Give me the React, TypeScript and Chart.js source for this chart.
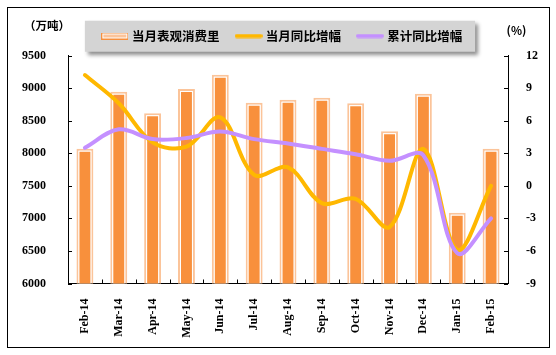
import { useEffect, useRef } from "react";
import { Chart, registerables } from "chart.js";

Chart.register(...registerables);

// ---------------- data ----------------
const categories = [
  "Feb-14", "Mar-14", "Apr-14", "May-14", "Jun-14", "Jul-14", "Aug-14",
  "Sep-14", "Oct-14", "Nov-14", "Dec-14", "Jan-15", "Feb-15",
];
const consumption = [8069, 8944, 8613, 8986, 9205, 8775, 8821, 8852, 8766, 8336, 8913, 7087, 8069];
const monthlyYoY = [10.2, 7.6, 4.0, 3.6, 6.3, 1.0, 1.7, -1.6, -1.2, -3.8, 3.4, -5.9, 0.0];
const cumulativeYoY = [3.5, 5.2, 4.3, 4.4, 5.0, 4.3, 3.9, 3.4, 2.9, 2.3, 2.8, -6.2, -3.0];
const seriesNames = ["当月表观消费里", "当月同比增幅", "累计同比增幅"];
const leftAxis = { min: 6000, max: 9500, step: 500 };
const rightAxis = { min: -9, max: 12, step: 3 };
const unitLeft = "（万吨）";
const unitRight = "(%)";

// ---------------- styles ----------------
const BAR_FILL = "#F8903C";
const BAR_RING = "#FBC49A";
const LINE_ORANGE = "#FFB800";
const LINE_PURPLE = "#C490FF";
const CJK = "'Noto Sans CJK SC', 'Noto Sans', sans-serif";
const NUM = "'Liberation Serif', 'DejaVu Serif', serif";

function makeIcon(kind: string): HTMLCanvasElement {
  const c = document.createElement("canvas");
  const ctx = c.getContext("2d")!;
  if (kind === "bar") {
    c.width = 27;
    c.height = 7;
    ctx.fillStyle = BAR_FILL;
    ctx.fillRect(0, 0, 27, 7);
    ctx.fillStyle = "#FFFFFF";
    ctx.fillRect(1, 1, 25, 5);
    ctx.fillStyle = BAR_RING;
    ctx.fillRect(2, 2, 23, 3);
  } else {
    c.width = 28;
    c.height = 5;
    ctx.fillStyle = kind;
    ctx.beginPath();
    ctx.moveTo(2, 0.5);
    ctx.lineTo(26, 0.5);
    ctx.arc(26, 2.5, 2, -Math.PI / 2, Math.PI / 2);
    ctx.lineTo(2, 4.5);
    ctx.arc(2, 2.5, 2, Math.PI / 2, (3 * Math.PI) / 2);
    ctx.fill();
  }
  return c;
}

const legendBgPlugin = {
  id: "legendBg",
  beforeDraw(chart: any) {
    const lg = chart.legend;
    if (!lg || !lg.legendHitBoxes || !lg.legendHitBoxes.length) return;
    const hb = lg.legendHitBoxes;
    const first = hb[0];
    const last = hb[hb.length - 1];
    const x0 = first.left - 19;
    const x1 = last.left + last.width + 13;
    const y0 = lg.top + 9;
    const y1 = lg.bottom - 0.5;
    const ctx = chart.ctx;
    ctx.save();
    ctx.shadowColor = "rgba(0,0,0,0.45)";
    ctx.shadowBlur = 4;
    ctx.shadowOffsetX = 3;
    ctx.shadowOffsetY = 3;
    ctx.fillStyle = "#D4D4D4";
    ctx.fillRect(x0, y0, x1 - x0, y1 - y0);
    ctx.restore();
  },
};

const decorPlugin = {
  id: "decor",
  afterDraw(chart: any) {
    const ctx = chart.ctx;
    const { left, right, bottom } = chart.chartArea;
    const y = chart.scales.y;
    const y1 = chart.scales.y1;
    const x = chart.scales.x;
    ctx.save();
    ctx.strokeStyle = "#000";
    ctx.lineWidth = 1;
    ctx.beginPath();
    y.ticks.forEach((t: any) => {
      const p = Math.round(y.getPixelForValue(t.value)) + 0.5;
      ctx.moveTo(left, p);
      ctx.lineTo(left + 4, p);
    });
    y1.ticks.forEach((t: any) => {
      const p = Math.round(y1.getPixelForValue(t.value)) + 0.5;
      ctx.moveTo(right - 4, p);
      ctx.lineTo(right, p);
    });
    for (let i = 1; i < categories.length; i++) {
      const p = Math.round((x.getPixelForValue(i - 1) + x.getPixelForValue(i)) / 2) + 0.5;
      ctx.moveTo(p, bottom);
      ctx.lineTo(p, bottom - 4);
    }
    ctx.stroke();

    // outer frame
    ctx.strokeRect(7.5, 7.5, 542, 340);

    // unit labels
    ctx.fillStyle = "#000";
    ctx.font = `bold 11.5px ${CJK}`;
    ctx.textBaseline = "middle";
    ctx.textAlign = "center";
    ctx.fillText(unitLeft, 47, 26);
    ctx.fillText(unitRight, 516.5, 31);
    ctx.restore();
  },
};

export default function App() {
  const ref = useRef<HTMLCanvasElement | null>(null);

  useEffect(() => {
    if (!ref.current) return;
    const icons = [makeIcon("bar"), makeIcon(LINE_ORANGE), makeIcon(LINE_PURPLE)];
    const tickFont = { family: NUM, size: 12, weight: "bold" as const };
    const plain = (v: any) => String(v);

    const chart = new Chart(ref.current, {
      type: "bar",
      data: {
        labels: categories,
        datasets: [
          {
            type: "bar",
            label: seriesNames[0],
            data: consumption,
            yAxisID: "y",
            backgroundColor: BAR_FILL,
            borderColor: "rgba(0,0,0,0)",
            borderWidth: 3,
            borderSkipped: false,
            barPercentage: 0.5,
            categoryPercentage: 1,
            grouped: false,
            order: 2,
          } as any,
          {
            type: "bar",
            label: seriesNames[0] + " ",
            data: consumption,
            yAxisID: "y",
            backgroundColor: "#FFFFFF",
            borderColor: BAR_RING,
            borderWidth: 2,
            borderSkipped: false,
            barPercentage: 0.5,
            categoryPercentage: 1,
            grouped: false,
            order: 3,
          } as any,
          {
            type: "line",
            label: seriesNames[1],
            data: monthlyYoY,
            yAxisID: "y1",
            borderColor: LINE_ORANGE,
            backgroundColor: LINE_ORANGE,
            borderWidth: 4,
            pointRadius: 0,
            tension: 0.35,
            fill: false,
            borderCapStyle: "round",
            order: 1,
          } as any,
          {
            type: "line",
            label: seriesNames[2],
            data: cumulativeYoY,
            yAxisID: "y1",
            borderColor: LINE_PURPLE,
            backgroundColor: LINE_PURPLE,
            borderWidth: 4,
            pointRadius: 0,
            tension: 0.35,
            fill: false,
            borderCapStyle: "round",
            order: 0,
          } as any,
        ],
      },
      options: {
        responsive: false,
        maintainAspectRatio: false,
        animation: false,
        layout: { padding: { left: 10, right: 0, top: 11.75, bottom: 0 } },
        plugins: {
          tooltip: { enabled: false },
          title: {
            display: true,
            text: "",
            position: "top",
            weight: 500,
            font: { size: 1, lineHeight: 1 },
            padding: { top: 2.25, bottom: 0 },
          } as any,
          legend: {
            display: true,
            position: "top",
            labels: {
              usePointStyle: true,
              pointStyleWidth: 22,
              padding: 18,
              color: "#000",
              font: { family: CJK, size: 12.5, weight: "bold" },
              generateLabels: () =>
                seriesNames.map((name, i) => ({
                  text: name,
                  pointStyle: icons[i],
                  fillStyle: "rgba(0,0,0,0)",
                  strokeStyle: "rgba(0,0,0,0)",
                  lineWidth: 0,
                  hidden: false,
                  fontColor: "#000",
                  datasetIndex: i === 0 ? 0 : i + 1,
                })) as any,
            },
          },
        },
        scales: {
          x: {
            offset: true,
            grid: { display: false },
            border: { display: true, color: "#000", width: 1 },
            ticks: {
              color: "#000",
              font: tickFont,
              minRotation: 90,
              maxRotation: 90,
              autoSkip: false,
              padding: 7,
            },
            afterFit: (s: any) => {
              s.height = 71.5;
            },
          },
          y: {
            position: "left",
            min: leftAxis.min,
            max: leftAxis.max,
            grid: { display: false },
            border: { display: true, color: "#000", width: 1 },
            ticks: { stepSize: leftAxis.step, color: "#000", font: tickFont, padding: 14, callback: plain },
            afterFit: (s: any) => {
              s.width = 58;
            },
          },
          y1: {
            position: "right",
            min: rightAxis.min,
            max: rightAxis.max,
            grid: { display: false },
            border: { display: true, color: "#000", width: 1 },
            ticks: { stepSize: rightAxis.step, color: "#000", font: tickFont, padding: 10, callback: plain },
            afterFit: (s: any) => {
              s.width = 48;
            },
          },
        },
      } as any,
      plugins: [legendBgPlugin, decorPlugin],
    });

    return () => chart.destroy();
  }, []);

  return (
    <div style={{ position: "fixed", left: 0, top: 0, width: 556, height: 355, background: "#fff" }}>
      <canvas ref={ref} width={556} height={355} style={{ display: "block" }} />
    </div>
  );
}
